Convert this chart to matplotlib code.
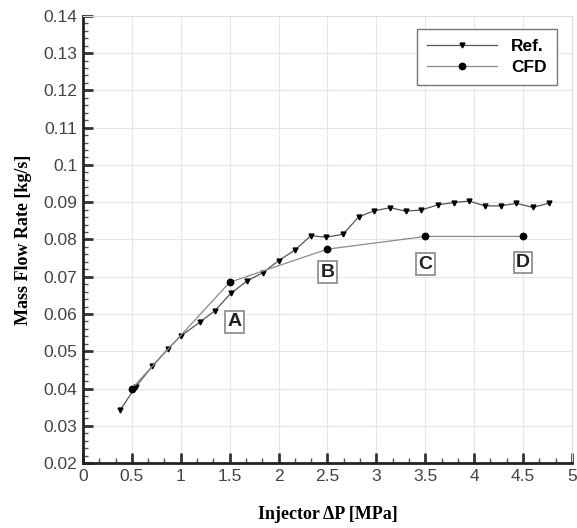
import numpy as np
import matplotlib
matplotlib.use('Agg')
import matplotlib.pyplot as plt
from matplotlib.ticker import MultipleLocator, FuncFormatter

# reference data
ref_dp = [0.38, 0.54, 0.71, 0.87, 1.0, 1.2, 1.35, 1.51, 1.68, 1.84, 2.0, 2.17,
          2.33, 2.49, 2.66, 2.82, 2.98, 3.14, 3.3, 3.46, 3.63, 3.79, 3.95,
          4.11, 4.27, 4.43, 4.6, 4.76]
ref_mdot = [0.0342, 0.0405, 0.046, 0.0507, 0.0541, 0.0579, 0.0609, 0.0655,
            0.0689, 0.0711, 0.0743, 0.0772, 0.081, 0.0806, 0.0814, 0.0861,
            0.0877, 0.0885, 0.0876, 0.0879, 0.0893, 0.0899, 0.0903, 0.089,
            0.089, 0.0897, 0.0886, 0.0897]

# CFD cases
cfd_dp = [0.5, 1.5, 2.5, 3.5, 4.5]
cfd_mdot = [0.040, 0.0685, 0.0774, 0.0808, 0.0808]

case_names = ['A', 'B', 'C', 'D']
case_x = [1.55, 2.5, 3.5, 4.5]
case_y = [0.0579, 0.0712, 0.0734, 0.0738]

fig = plt.figure(figsize=(5.77, 5.28), dpi=100)
ax = fig.add_axes([0.1438, 0.123, 0.8475, 0.847])

ax.plot(ref_dp, ref_mdot, color='#555555', lw=0.9, marker='v', ms=3.5,
        mfc='black', mec='black', label='Ref.')
ax.plot(cfd_dp, cfd_mdot, color='#8a8a8a', lw=0.9, marker='o', ms=4.6,
        mfc='black', mec='black', label='CFD')

for name, x, y in zip(case_names, case_x, case_y):
    ax.text(x, y, name, ha='center', va='center', fontsize=14, fontweight='bold',
            family='Liberation Sans', color='#222222',
            bbox=dict(boxstyle='square,pad=0.12', fc='white', ec='#888888', lw=1.2))

ax.set_xlim(0, 5)
ax.set_ylim(0.02, 0.14)
ax.xaxis.set_major_locator(MultipleLocator(0.5))
ax.xaxis.set_minor_locator(MultipleLocator(0.5 / 3))
ax.yaxis.set_major_locator(MultipleLocator(0.01))
ax.yaxis.set_minor_locator(MultipleLocator(0.002))
ax.xaxis.set_major_formatter(FuncFormatter(lambda v, p: '%g' % round(v, 3)))
ax.yaxis.set_major_formatter(FuncFormatter(lambda v, p: '%g' % round(v, 3)))

ax.grid(True, which='major', color='#e6e6e6', lw=0.8, ls='-')
ax.tick_params(which='major', direction='in', length=7, width=2, labelsize=12.5,
               top=False, right=False, colors='#333333', pad=4)
ax.tick_params(which='minor', direction='in', length=3.5, width=1,
               top=False, right=False, colors='#555555')
for lab in ax.get_xticklabels() + ax.get_yticklabels():
    lab.set_family('Liberation Sans')
    lab.set_color('#444444')

for s in ['left', 'bottom']:
    ax.spines[s].set_linewidth(2)
    ax.spines[s].set_color('#222222')
for s in ['top', 'right']:
    ax.spines[s].set_linewidth(0.8)
    ax.spines[s].set_color('#dddddd')

ax.set_xlabel('Injector \u0394P [MPa]', fontsize=13, fontweight='bold',
              family='Liberation Serif', labelpad=16)
ax.set_ylabel('Mass Flow Rate [kg/s]', fontsize=13, fontweight='bold',
              family='Liberation Serif', labelpad=8)

leg = ax.legend(loc='upper right', bbox_to_anchor=(0.969, 0.971), borderaxespad=0,
                prop={'family': 'Liberation Sans', 'weight': 'bold', 'size': 12.5},
                markerfirst=True, handlelength=4.0, fancybox=False,
                framealpha=1, borderpad=0.6, labelspacing=0.3)
leg.get_frame().set_edgecolor('#777777')
leg.get_frame().set_linewidth(1.0)

fig.savefig('out.png', dpi=100)
